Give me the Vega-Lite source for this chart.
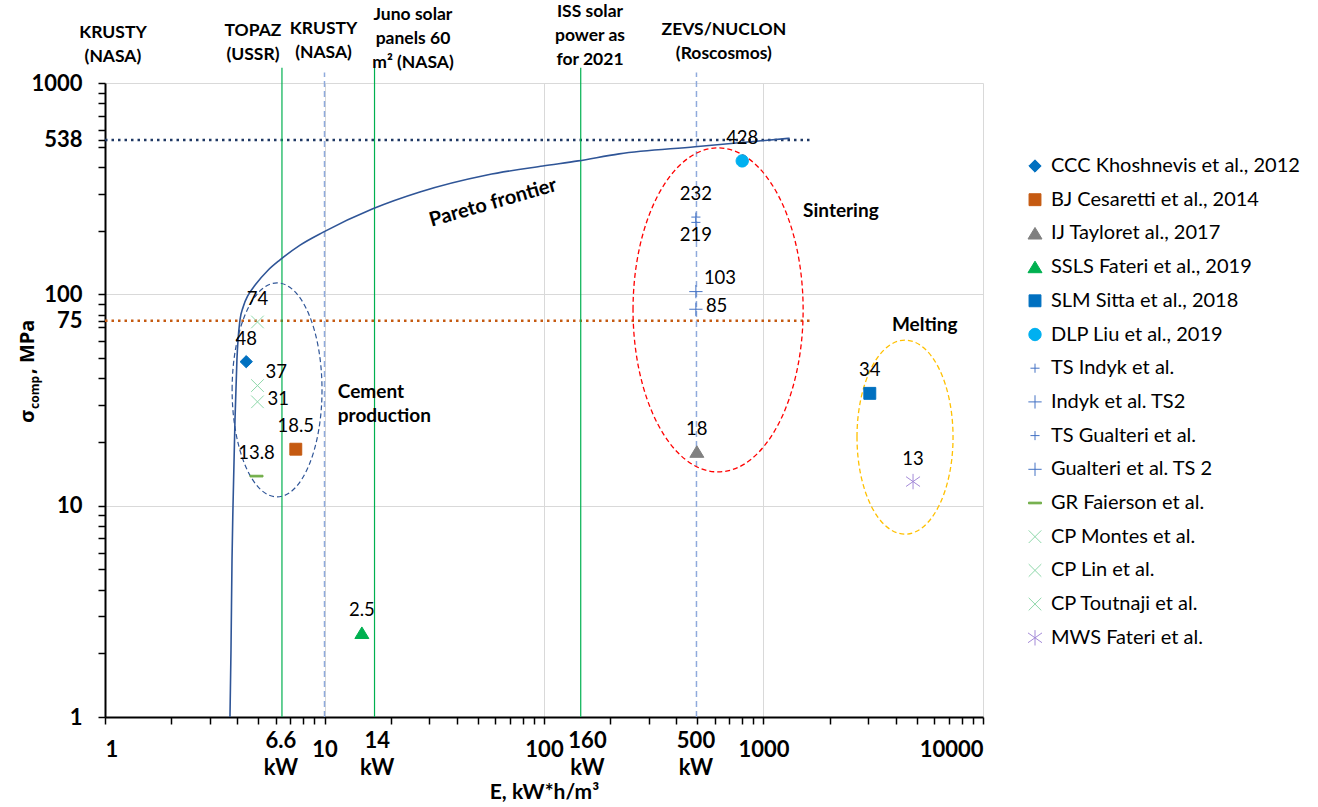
{
  "$schema": "https://vega.github.io/schema/vega-lite/v6.json",
  "width": 878,
  "height": 634,
  "autosize": {"type": "none"},
  "padding": {"left": 105, "top": 83, "right": 335, "bottom": 90},
  "config": {"view": {"stroke": null}, "font": "Lato", "text": {"font": "Lato"}},
  "datasets": {
    "pts": [
      {"series": "CCC Khoshnevis et al., 2012", "E": 4.4, "s": 48},
      {"series": "BJ Cesaretti et al., 2014", "E": 7.4, "s": 18.5},
      {"series": "IJ Tayloret al., 2017", "E": 497, "s": 18},
      {"series": "SSLS Fateri et al., 2019", "E": 14.8, "s": 2.5},
      {"series": "SLM Sitta et al., 2018", "E": 3050, "s": 34},
      {"series": "DLP Liu et al., 2019", "E": 800, "s": 428},
      {"series": "TS Indyk et al.", "E": 492, "s": 232},
      {"series": "Indyk et al. TS2", "E": 492, "s": 103},
      {"series": "TS Gualteri et al.", "E": 492, "s": 219},
      {"series": "Gualteri et al. TS 2", "E": 492, "s": 85},
      {"series": "GR Faierson et al.", "E": 4.9, "s": 13.8},
      {"series": "CP Montes et al.", "E": 4.95, "s": 74},
      {"series": "CP Lin et al.", "E": 4.95, "s": 37},
      {"series": "CP Toutnaji et al.", "E": 4.95, "s": 31},
      {"series": "MWS Fateri et al.", "E": 4800, "s": 13}
    ]
  },
  "layer": [
    {
      "data": {"values": [{"E": 1, "s": 1}]},
      "mark": {"type": "point", "opacity": 0},
      "encoding": {
        "x": {
          "field": "E", "type": "quantitative",
          "scale": {"type": "log", "domain": [1, 10000], "nice": false},
          "axis": {
            "title": "E, kW*h/m³",
            "values": [1,2,3,4,5,6,7,8,9,10,20,30,40,50,60,70,80,90,100,200,300,400,500,600,700,800,900,1000,2000,3000,4000,5000,6000,7000,8000,9000,10000,6.3,17.3,157,490],
            "labelExpr": "datum.value == 6.3 ? ['6.6','kW'] : datum.value == 17.3 ? ['14','kW'] : datum.value == 157 ? ['160','kW'] : datum.value == 490 ? ['500','kW'] : (indexof([1,10,100,1000,10000], datum.value) >= 0 ? '' + datum.value : '')",
            "labelOverlap": false,
            "labelFont": "Lato", "labelFontWeight": "bold", "labelFontSize": 22, "labelColor": "#000",
            "labelBaseline": "middle", "labelLineHeight": 27,
            "labelPadding": {"condition": {"test": "indexof([6.3,17.3,157,490], datum.value) >= 0", "value": 16}, "value": 25},
            "tickColor": "#000", "tickSize": 7, "tickWidth": 1.5,
            "tickOpacity": {"condition": {"test": "indexof([6.3,17.3,157,490], datum.value) >= 0", "value": 0}, "value": 1},
            "grid": true, "gridColor": "#D9D9D9",
            "gridOpacity": {"condition": {"test": "indexof([10,100,1000,10000], datum.value) >= 0", "value": 1}, "value": 0},
            "domainColor": "#000", "domainWidth": 2,
            "titleFont": "Lato", "titleFontWeight": "bold", "titleFontSize": 21, "titleColor": "#000",
            "titleY": 81, "titleBaseline": "alphabetic"
          }
        },
        "y": {
          "field": "s", "type": "quantitative",
          "scale": {"type": "log", "domain": [1, 1000], "nice": false},
          "axis": {
            "title": null,
            "values": [1,2,3,4,5,6,7,8,9,10,20,30,40,50,60,70,80,90,100,200,300,400,500,600,700,800,900,1000,75,538],
            "labelExpr": "indexof([1,10,75,100,538,1000], datum.value) >= 0 ? '' + datum.value : ''",
            "labelOverlap": false,
            "labelFont": "Lato", "labelFontWeight": "bold", "labelFontSize": 22, "labelColor": "#000",
            "labelPadding": 16,
            "tickColor": "#000", "tickSize": 7, "tickWidth": 1.5,
            "grid": true, "gridColor": "#D9D9D9",
            "gridOpacity": {"condition": {"test": "indexof([10,100,1000], datum.value) >= 0", "value": 1}, "value": 0},
            "domainColor": "#000", "domainWidth": 2
          }
        }
      }
    },
    {
      "data": {"values": [{"s": 538}]},
      "mark": {"type": "rule", "stroke": "#1F3864", "strokeWidth": 2.5, "strokeDash": [2.5, 4]},
      "encoding": {"y": {"field": "s", "type": "quantitative"}, "x": {"datum": 1}, "x2": {"datum": 1630}}
    },
    {
      "data": {"values": [{"s": 75}]},
      "mark": {"type": "rule", "stroke": "#C55A11", "strokeWidth": 2.5, "strokeDash": [2.5, 4]},
      "encoding": {"y": {"field": "s", "type": "quantitative"}, "x": {"datum": 1}, "x2": {"datum": 1630}}
    },
    {
      "data": {"values": [{"E": 6.4}, {"E": 16.9}, {"E": 147}]},
      "mark": {"type": "rule", "stroke": "#00B050", "strokeWidth": 1.2},
      "encoding": {"x": {"field": "E", "type": "quantitative"}, "y": {"datum": 1}, "y2": {"datum": 1180}}
    },
    {
      "data": {"values": [{"E": 10}, {"E": 495}]},
      "mark": {"type": "rule", "stroke": "#8FAADC", "strokeWidth": 1.5, "strokeDash": [6, 4]},
      "encoding": {"x": {"field": "E", "type": "quantitative"}, "y": {"datum": 1}, "y2": {"datum": 1120}}
    },
    {
      "data": {"values": [
        {"E": 3.71, "s": 1}, {"E": 3.75, "s": 2.08}, {"E": 3.79, "s": 5.53}, {"E": 3.83, "s": 10},
        {"E": 3.91, "s": 25.4}, {"E": 3.99, "s": 48.9}, {"E": 4.12, "s": 75.6}, {"E": 4.26, "s": 87.2},
        {"E": 4.49, "s": 99.2}, {"E": 4.83, "s": 110.6}, {"E": 5.53, "s": 130}, {"E": 6.27, "s": 145.5},
        {"E": 7.74, "s": 171}, {"E": 9.87, "s": 197},
        {"E": 16.6, "s": 254}, {"E": 27.2, "s": 305}, {"E": 55, "s": 367}, {"E": 98.8, "s": 405},
        {"E": 143, "s": 428}, {"E": 220, "s": 462}, {"E": 488, "s": 499}, {"E": 1316, "s": 548}
      ]},
      "mark": {"type": "line", "stroke": "#2F5597", "strokeWidth": 1.6, "interpolate": "monotone"},
      "encoding": {"x": {"field": "E", "type": "quantitative"}, "y": {"field": "s", "type": "quantitative"}}
    },
    {
      "data": {"values": [{"E": 6.08, "s": 35.3}]},
      "mark": {"type": "point", "shape": "M-0.42,0A0.42,1,0,1,1,0.42,0A0.42,1,0,1,1,-0.42,0Z", "size": 45796, "filled": false, "stroke": "#2F5597", "strokeWidth": 1.2, "strokeDash": [5, 3], "opacity": 1},
      "encoding": {"x": {"field": "E", "type": "quantitative"}, "y": {"field": "s", "type": "quantitative"}}
    },
    {
      "data": {"values": [{"E": 621, "s": 84.4}]},
      "mark": {"type": "point", "shape": "M-0.525,0A0.525,1,0,1,1,0.525,0A0.525,1,0,1,1,-0.525,0Z", "size": 104976, "filled": false, "stroke": "#FF0000", "strokeWidth": 1.3, "strokeDash": [5, 3], "opacity": 1},
      "encoding": {"x": {"field": "E", "type": "quantitative"}, "y": {"field": "s", "type": "quantitative"}}
    },
    {
      "data": {"values": [{"E": 4413, "s": 21.1}]},
      "mark": {"type": "point", "shape": "M-0.495,0A0.495,1,0,1,1,0.495,0A0.495,1,0,1,1,-0.495,0Z", "size": 37636, "filled": false, "stroke": "#FFC000", "strokeWidth": 1.3, "strokeDash": [5, 3], "opacity": 1},
      "encoding": {"x": {"field": "E", "type": "quantitative"}, "y": {"field": "s", "type": "quantitative"}}
    },
    {
      "data": {"name": "pts"},
      "mark": {"type": "point", "filled": true, "opacity": 1, "strokeWidth": 1, "size": 196},
      "encoding": {
        "x": {"field": "E", "type": "quantitative"},
        "y": {"field": "s", "type": "quantitative"},
        "shape": {
          "field": "series", "type": "nominal",
          "scale": {
            "domain": ["CCC Khoshnevis et al., 2012","BJ Cesaretti et al., 2014","IJ Tayloret al., 2017","SSLS Fateri et al., 2019","SLM Sitta et al., 2018","DLP Liu et al., 2019","TS Indyk et al.","Indyk et al. TS2","TS Gualteri et al.","Gualteri et al. TS 2","GR Faierson et al.","CP Montes et al.","CP Lin et al.","CP Toutnaji et al.","MWS Fateri et al."],
            "range": [
              "M0,-0.88L0.88,0L0,0.88L-0.88,0Z",
              "M-0.85,-0.85H0.85V0.85H-0.85Z",
              "M0,-0.85L1,0.8H-1Z",
              "M0,-0.85L1,0.8H-1Z",
              "M-0.85,-0.85H0.85V0.85H-0.85Z",
              "M-0.88,0A0.88,0.88,0,1,1,0.88,0A0.88,0.88,0,1,1,-0.88,0Z",
              "M-0.65,0H0.65M0,-0.65V0.65",
              "M-0.95,0H0.95M0,-0.95V0.95",
              "M-0.65,0H0.65M0,-0.65V0.65",
              "M-0.95,0H0.95M0,-0.95V0.95",
              "M-0.93,-0.12H0.93V0.12H-0.93Z",
              "M-0.9,-0.9L0.9,0.9M-0.9,0.9L0.9,-0.9",
              "M-0.9,-0.9L0.9,0.9M-0.9,0.9L0.9,-0.9",
              "M-0.9,-0.9L0.9,0.9M-0.9,0.9L0.9,-0.9",
              "M-1,-0.7L1,0.7M-1,0.7L1,-0.7M0,-1.1V1.1"
            ]
          },
          "legend": {"orient": "none", "legendX": 920, "legendY": 73, "title": null, "labelFont": "Lato", "labelFontSize": 20, "labelColor": "#000", "labelLimit": 400, "symbolSize": 196, "rowPadding": 13.7, "labelOffset": 6, "symbolStrokeWidth": 1, "padding": 0}
        },
        "fill": {
          "field": "series", "type": "nominal",
          "scale": {
            "domain": ["CCC Khoshnevis et al., 2012","BJ Cesaretti et al., 2014","IJ Tayloret al., 2017","SSLS Fateri et al., 2019","SLM Sitta et al., 2018","DLP Liu et al., 2019","TS Indyk et al.","Indyk et al. TS2","TS Gualteri et al.","Gualteri et al. TS 2","GR Faierson et al.","CP Montes et al.","CP Lin et al.","CP Toutnaji et al.","MWS Fateri et al."],
            "range": ["#0070C0","#C55A11","#808080","#00B050","#0070C0","#00B0F0","#4472C4","#4472C4","#4472C4","#4472C4","#70AD47","#8ED8AA","#8ED8AA","#8ED8AA","#A48AD8"]
          },
          "legend": {"orient": "none", "legendX": 920, "legendY": 73, "title": null, "labelFont": "Lato", "labelFontSize": 20, "labelColor": "#000", "labelLimit": 400, "symbolSize": 196, "rowPadding": 13.7, "labelOffset": 6, "symbolStrokeWidth": 1, "padding": 0}
        },
        "stroke": {
          "field": "series", "type": "nominal",
          "scale": {
            "domain": ["CCC Khoshnevis et al., 2012","BJ Cesaretti et al., 2014","IJ Tayloret al., 2017","SSLS Fateri et al., 2019","SLM Sitta et al., 2018","DLP Liu et al., 2019","TS Indyk et al.","Indyk et al. TS2","TS Gualteri et al.","Gualteri et al. TS 2","GR Faierson et al.","CP Montes et al.","CP Lin et al.","CP Toutnaji et al.","MWS Fateri et al."],
            "range": ["#0070C0","#C55A11","#808080","#00B050","#0070C0","#00B0F0","#4472C4","#4472C4","#4472C4","#4472C4","#70AD47","#8ED8AA","#8ED8AA","#8ED8AA","#A48AD8"]
          },
          "legend": {"orient": "none", "legendX": 920, "legendY": 73, "title": null, "labelFont": "Lato", "labelFontSize": 20, "labelColor": "#000", "labelLimit": 400, "symbolSize": 196, "rowPadding": 13.7, "labelOffset": 6, "symbolStrokeWidth": 1, "padding": 0}
        }
      }
    },
    {
      "data": {"name": "pts"},
      "transform": [{"filter": {"field": "series", "oneOf": ["CCC Khoshnevis et al., 2012","BJ Cesaretti et al., 2014","IJ Tayloret al., 2017","SSLS Fateri et al., 2019","SLM Sitta et al., 2018","DLP Liu et al., 2019","TS Indyk et al.","GR Faierson et al.","CP Montes et al.","MWS Fateri et al."]}}],
      "mark": {"type": "text", "font": "Lato", "fontSize": 18.5, "color": "#000", "dy": -23, "baseline": "middle"},
      "encoding": {"x": {"field": "E", "type": "quantitative"}, "y": {"field": "s", "type": "quantitative"}, "text": {"field": "s", "type": "nominal"}}
    },
    {
      "data": {"name": "pts"},
      "transform": [{"filter": {"field": "series", "oneOf": ["TS Gualteri et al."]}}],
      "mark": {"type": "text", "font": "Lato", "fontSize": 18.5, "color": "#000", "dy": 13, "baseline": "middle"},
      "encoding": {"x": {"field": "E", "type": "quantitative"}, "y": {"field": "s", "type": "quantitative"}, "text": {"field": "s", "type": "nominal"}}
    },
    {
      "data": {"name": "pts"},
      "transform": [{"filter": {"field": "series", "oneOf": ["CP Lin et al.", "Indyk et al. TS2"]}}],
      "mark": {"type": "text", "font": "Lato", "fontSize": 18.5, "color": "#000", "dx": 8, "dy": -14, "align": "left", "baseline": "middle"},
      "encoding": {"x": {"field": "E", "type": "quantitative"}, "y": {"field": "s", "type": "quantitative"}, "text": {"field": "s", "type": "nominal"}}
    },
    {
      "data": {"name": "pts"},
      "transform": [{"filter": {"field": "series", "oneOf": ["CP Toutnaji et al.", "Gualteri et al. TS 2"]}}],
      "mark": {"type": "text", "font": "Lato", "fontSize": 18.5, "color": "#000", "dx": 10, "dy": -3, "align": "left", "baseline": "middle"},
      "encoding": {"x": {"field": "E", "type": "quantitative"}, "y": {"field": "s", "type": "quantitative"}, "text": {"field": "s", "type": "nominal"}}
    },
    {
      "data": {"values": [
        {"t": "KRUSTY\n(NASA)", "E": 1.087, "s": 1726},
        {"t": "TOPAZ\n(USSR)", "E": 4.72, "s": 1765},
        {"t": "KRUSTY\n(NASA)", "E": 9.9, "s": 1793},
        {"t": "Juno solar\npanels 60\nm² (NASA)", "E": 25.3, "s": 2101},
        {"t": "ISS solar\npower as\nfor 2021", "E": 162, "s": 2158},
        {"t": "ZEVS/NUCLON\n(Roscosmos)", "E": 660, "s": 1784}
      ]},
      "mark": {"type": "text", "font": "Lato", "fontSize": 17.5, "fontWeight": "bold", "color": "#000", "lineBreak": "\n", "lineHeight": 24, "align": "center", "baseline": "middle"},
      "encoding": {"x": {"field": "E", "type": "quantitative"}, "y": {"field": "s", "type": "quantitative"}, "text": {"field": "t", "type": "nominal"}}
    },
    {
      "data": {"values": [
        {"t": "Cement\nproduction", "E": 11.5, "s": 34.5},
        {"t": "Sintering", "E": 1515, "s": 248},
        {"t": "Melting", "E": 3848, "s": 71.6}
      ]},
      "mark": {"type": "text", "font": "Lato", "fontSize": 19, "fontWeight": "bold", "color": "#000", "lineBreak": "\n", "lineHeight": 24, "align": "left", "baseline": "middle"},
      "encoding": {"x": {"field": "E", "type": "quantitative"}, "y": {"field": "s", "type": "quantitative"}, "text": {"field": "t", "type": "nominal"}}
    },
    {
      "data": {"values": [{"t": "Pareto frontier", "E": 58.6, "s": 271}]},
      "mark": {"type": "text", "font": "Lato", "fontSize": 20, "fontWeight": "bold", "color": "#000", "angle": 344, "align": "center", "baseline": "middle"},
      "encoding": {"x": {"field": "E", "type": "quantitative"}, "y": {"field": "s", "type": "quantitative"}, "text": {"field": "t", "type": "nominal"}}
    },
    {
      "data": {"values": [{"t": "σ", "E": 0.475, "s": 24.6}, {"t": ", MPa", "E": 0.475, "s": 42.0}]},
      "mark": {"type": "text", "font": "Open Sans", "fontSize": 20, "fontWeight": "bold", "color": "#000", "angle": 270, "align": "left", "baseline": "alphabetic"},
      "encoding": {"x": {"field": "E", "type": "quantitative"}, "y": {"field": "s", "type": "quantitative"}, "text": {"field": "t", "type": "nominal"}}
    },
    {
      "data": {"values": [{"t": "comp", "E": 0.5004, "s": 28.7}]},
      "mark": {"type": "text", "font": "Open Sans", "fontSize": 12, "fontWeight": "bold", "color": "#000", "angle": 270, "align": "left", "baseline": "alphabetic"},
      "encoding": {"x": {"field": "E", "type": "quantitative"}, "y": {"field": "s", "type": "quantitative"}, "text": {"field": "t", "type": "nominal"}}
    }
  ]
}
